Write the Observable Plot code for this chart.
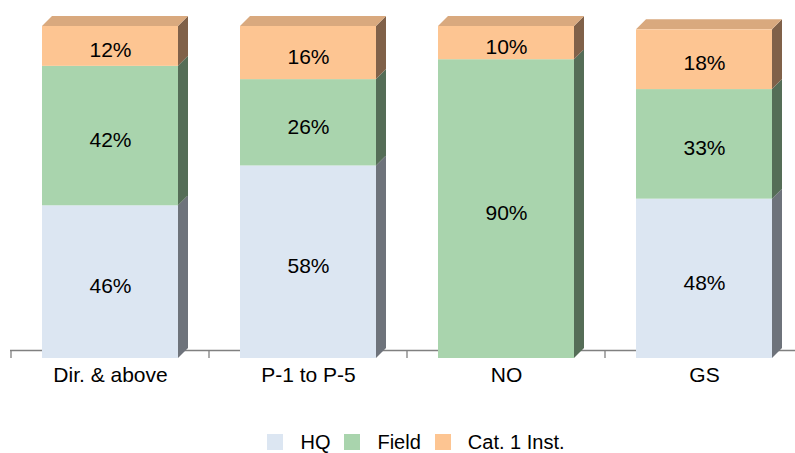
<!DOCTYPE html>
<html>
<head>
<meta charset="utf-8">
<script src="https://cdn.jsdelivr.net/npm/d3@7"></script>
<script src="https://cdn.jsdelivr.net/npm/@observablehq/plot@0.6"></script>
<style>
  html, body { margin: 0; padding: 0; background: #fff; }
  #wrap { position: relative; width: 795px; height: 453px; font-family: "Liberation Sans", Arial, sans-serif; }
  #legend {
    position: absolute; left: 0; top: 432px; width: 795px; box-sizing: border-box;
    padding-left: 37px; display: flex; justify-content: center; align-items: center;
    font-size: 20px; line-height: 20px; color: #000;
  }
  #legend .item { display: flex; align-items: center; margin-right: 14px; }
  #legend .item:last-child { margin-right: 0; }
  #legend .sw { width: 16px; height: 16px; margin-right: 17px; }
</style>
</head>
<body>
<div id="wrap">
  <div id="chart"></div>
  <div id="legend"></div>
</div>
<script>
// Staff distribution by grade group (percent)
const categories = ["Dir. & above", "P-1 to P-5", "NO", "GS"];
const series = ["HQ", "Field", "Cat. 1 Inst."];
const hq = [46, 58, 0, 48];
const field = [42, 26, 90, 33];
const cat1 = [12, 16, 10, 18];

// Face colours: front, side (shaded), top
const frontColors = ["#dce6f2", "#a9d4ad", "#fdc592"];
const sideColors = ["#6e737b", "#556d57", "#806149"];
const topColors = ["#c6cfda", "#98bf9c", "#d9a97e"];
const depth = 10;

// Build stacked segments
const valuesBySeries = [hq, field, cat1];
const segments = [];
categories.forEach((cat, i) => {
  let acc = 0;
  const segs = [];
  series.forEach((s, j) => {
    const v = valuesBySeries[j][i];
    if (v > 0) {
      segs.push({cat, series: s, si: j, value: v, y1: acc, y2: acc + v});
      acc += v;
    }
  });
  if (segs.length) segs[segs.length - 1].top = true;
  segments.push(...segs);
});

// Side and top faces plus the band-boundary ticks, from the plot's scales
function extrusion(index, scales, values, dimensions) {
  const {x, y} = scales;
  const bw = x.bandwidth();
  const step = x.step ? x.step() : bw;
  const g = d3.create("svg:g");
  const ticks = g.append("g").attr("stroke", "#808080").attr("stroke-width", 1.3);
  categories.forEach((c) => {
    const bx = x(c) - (step - bw) / 2;
    ticks.append("line").attr("x1", bx).attr("x2", bx)
      .attr("y1", y(0) - 8).attr("y2", y(0));
  });
  for (const s of segments) {
    const xl = x(s.cat), xr = xl + bw;
    const yb = y(s.y1), yt = y(s.y2);
    g.append("polygon")
      .attr("points", [[xr, yt], [xr + depth, yt - depth], [xr + depth, yb - depth], [xr, yb]].join(" "))
      .attr("fill", sideColors[s.si]);
    if (s.top) {
      g.append("polygon")
        .attr("points", [[xl, yt], [xl + depth, yt - depth], [xr + depth, yt - depth], [xr, yt]].join(" "))
        .attr("fill", topColors[s.si]);
    }
  }
  return g.node();
}

const plot = Plot.plot({
  width: 795,
  height: 400,
  marginTop: 26,
  marginBottom: 42,
  marginLeft: 10,
  marginRight: 0,
  style: {fontFamily: "'Liberation Sans', Arial, sans-serif", fontSize: "21px", color: "#000", background: "#fff"},
  x: {domain: categories, range: [10, 804], paddingInner: 0.315, paddingOuter: 0.1575,
      tickSize: 0, tickPadding: 9, label: null},
  y: {domain: [0, 100], axis: null},
  color: {domain: series, range: frontColors},
  marks: [
    Plot.ruleY([0], {dy: -8, stroke: "#808080", strokeWidth: 1.3}),
    extrusion,
    Plot.rect(segments, {x: "cat", y1: "y1", y2: "y2", fill: "series"}),
    Plot.text(segments, {
      x: "cat", y: (d) => (d.y1 + d.y2) / 2, text: (d) => d.value + "%",
      fill: "#000", fontSize: 21, dy: 4
    })
  ]
});
document.getElementById("chart").appendChild(plot);

// Legend built from the colour scale
const colorScale = plot.scale("color");
const legend = document.getElementById("legend");
colorScale.domain.forEach((name, i) => {
  const item = document.createElement("div");
  item.className = "item";
  const sw = document.createElement("div");
  sw.className = "sw";
  sw.style.background = colorScale.range[i];
  const label = document.createElement("span");
  label.textContent = name;
  item.appendChild(sw);
  item.appendChild(label);
  legend.appendChild(item);
});
</script>
</body>
</html>
